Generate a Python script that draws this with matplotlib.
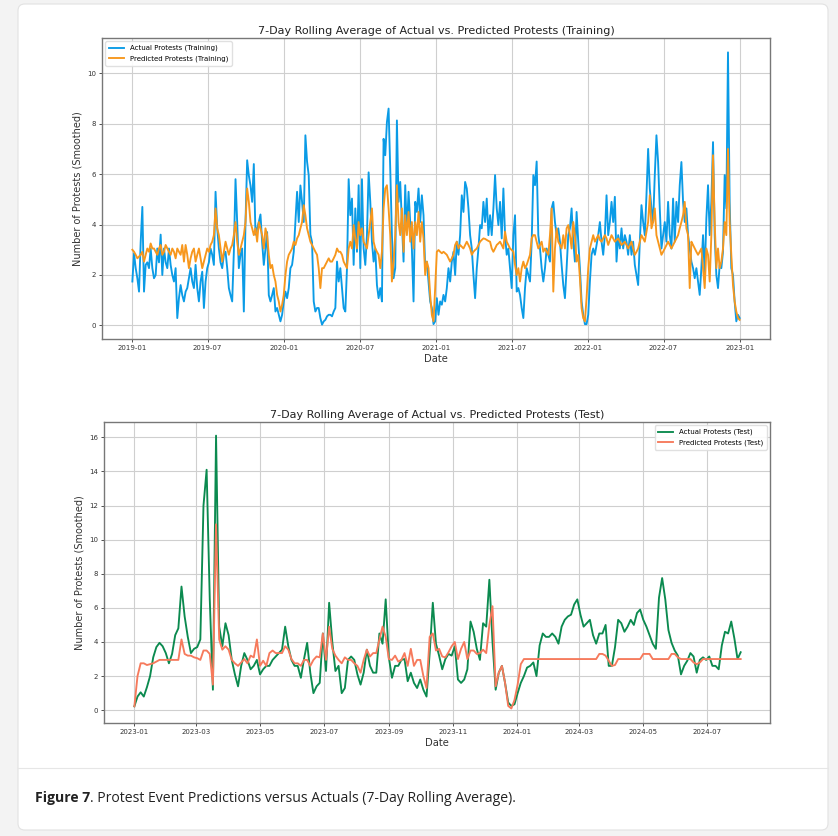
import pandas as pd
import matplotlib
matplotlib.use('Agg')
import matplotlib.pyplot as plt
import matplotlib.dates as mdates
from matplotlib.patches import FancyBboxPatch

# training period: one smoothed reading every 4 days, starting 2019-01-01
train_actual = [
    1.74, 2.86, 2.27, 1.87, 1.34, 3.3, 4.7, 1.34, 2.4, 2.5,
    2.27, 3.05, 2.27, 1.87, 2.0, 3.05, 2.5, 3.6, 2.0, 3.05,
    2.5, 2.27, 3.05, 2.4, 2.0, 1.74, 2.27, 0.29, 1.08, 1.6,
    1.2, 0.95, 1.34, 1.48, 1.87, 2.27, 1.74, 1.48, 2.4, 1.48,
    0.95, 1.74, 2.13, 0.69, 1.74, 2.27, 2.5, 3.05, 2.8, 2.4,
    5.3, 3.85, 3.05, 2.5, 2.27, 2.8, 2.92, 2.27, 1.48, 1.2,
    0.95, 2.92, 5.8, 4.1, 2.27, 2.8, 3.05, 0.55, 4.1, 6.55,
    5.95, 5.55, 4.9, 6.4, 3.6, 3.85, 4.1, 4.4, 3.3, 2.4,
    3.05, 3.7, 1.2, 0.95, 1.2, 1.48, 0.55, 0.69, 0.42, 0.16,
    0.42, 0.95, 1.34, 1.08, 1.48, 2.27, 2.4, 2.92, 4.1, 5.3,
    4.1, 5.55, 4.9, 4.1, 7.54, 6.5, 5.95, 3.6, 3.3, 0.95,
    0.55, 0.69, 0.69, 0.29, 0.03, 0.16, 0.22, 0.36, 0.42,
    0.42, 0.36, 0.55, 0.69, 2.53, 1.74, 2.27, 1.48, 0.69, 0.55,
    2.27, 5.8, 4.37, 5.03, 2.4, 4.64, 2.92, 5.56, 2.27, 5.8,
    3.05, 2.4, 3.58, 6.07, 4.9, 3.32, 2.53, 3.05, 1.6, 1.08,
    1.48, 0.95, 7.4, 6.75, 8.06, 8.6, 6.2, 3.58, 1.87, 2.27,
    8.13, 4.9, 5.69, 4.1, 2.53, 5.56, 3.72, 5.3, 4.1, 3.05,
    0.95, 4.9, 4.5, 5.43, 4.1, 5.16, 4.37, 2.27, 2.53, 1.74,
    0.95, 0.69, 0.05, 0.16, 1.08, 0.42, 0.95, 0.82, 1.21, 0.95,
    1.48, 2.27, 1.74, 2.53, 2.92, 2.0, 3.32, 2.8, 3.58, 5.16,
    4.5, 5.69, 5.43, 4.64, 3.58, 3.05, 2.0, 1.08, 2.27, 3.05,
    3.98, 3.85, 4.9, 4.1, 5.03, 3.58, 4.37, 3.58, 4.64, 5.96,
    4.64, 3.98, 4.9, 3.45, 5.43, 3.58, 2.8, 3.05, 2.27, 1.48,
    3.58, 4.37, 1.34, 1.48, 1.21, 0.69, 0.29, 1.48, 2.27, 2.0,
    1.74, 3.32, 5.96,
    5.56, 6.5, 3.58, 3.05, 2.27, 1.74, 2.27, 3.05, 2.8, 2.53,
    4.64, 4.9, 4.1, 3.58, 3.85, 3.32, 2.4, 1.6, 1.08, 2.27,
    3.58, 3.85, 4.64, 3.32, 2.53, 4.5, 3.32, 2.27, 0.95, 0.42,
    0.05, 0.05, 0.42, 1.74, 2.8, 3.05, 2.8, 3.19, 3.58, 4.1,
    3.32, 2.8, 3.58, 5.16, 3.58, 4.1, 4.9, 4.1, 5.1, 2.53,
    3.58, 3.05, 3.85, 3.05, 3.58, 3.32, 2.8, 3.58, 2.8, 3.32,
    2.4, 2.0, 1.6, 3.32, 4.77, 4.1, 3.58, 5.16, 7.0, 5.43,
    4.64, 4.1, 5.96, 7.54, 6.48, 4.64, 3.05, 3.58, 4.1, 3.32,
    4.9, 3.58, 3.05, 5.03, 3.32, 4.9, 4.1, 5.56, 6.48, 4.9,
    4.1, 4.64, 3.58, 3.05, 2.53, 2.27, 1.87, 2.27, 1.74, 1.21,
    2.27, 3.58, 2.0, 4.24, 5.56, 3.58, 4.9, 7.27, 3.58, 2.0,
    1.48, 2.4, 2.27, 2.92, 5.96, 4.64, 10.83, 4.9, 2.27, 2.0,
    0.95, 0.16, 0.42, 0.29,
]
train_pred = [
    3.0, 2.92, 2.8, 2.66, 2.73, 2.8, 2.92, 2.53, 2.8, 3.05,
    2.92, 3.25, 3.05, 3.05, 2.92, 2.8, 3.05, 3.19, 2.8, 2.92,
    3.19, 3.05, 2.92, 2.8, 3.05, 2.92, 2.66, 3.05, 2.92, 2.8,
    3.19, 2.53, 3.19, 2.8, 2.27, 2.66, 2.92, 3.05, 2.53, 2.8,
    3.05, 2.66, 2.27, 2.53, 2.8, 3.05, 2.92, 3.19, 3.32, 3.58,
    4.64, 3.85, 3.58, 3.05, 2.53, 2.92, 3.32, 3.05, 2.8, 3.05,
    3.19, 3.58, 4.1, 3.32, 2.8, 3.05, 3.32, 3.58, 4.1, 5.43,
    4.9, 4.1, 3.85, 3.58, 3.85, 3.32, 4.1, 3.85, 3.58, 3.05,
    3.85, 3.58, 2.8, 2.27, 2.4, 2.0, 1.74, 1.21, 0.95, 0.55,
    0.82, 1.21, 2.0, 2.53, 2.8, 2.92, 3.05, 3.32, 3.19, 3.45,
    3.58, 3.85, 4.1, 4.77, 4.37, 3.85, 3.58, 3.32, 3.19, 3.05,
    2.92, 2.8, 2.27, 1.48, 2.27, 2.27, 2.4, 2.53, 2.66,
    2.53, 2.53, 2.66, 2.8, 3.05, 2.92, 2.92, 2.8, 2.53, 2.4,
    2.27, 3.05, 3.32, 3.05, 3.98, 3.45, 3.05, 4.1, 3.58, 3.85,
    3.32, 3.19, 3.05, 3.58, 4.1, 4.64, 3.32, 3.05, 2.92, 2.8,
    2.27, 2.92, 4.64, 5.43, 5.56, 4.64, 3.58, 1.74, 2.53, 3.58,
    5.56, 4.1, 3.58, 4.64, 2.92, 4.37, 3.58, 4.5, 3.32, 4.1,
    3.05, 4.1, 3.58, 4.5, 3.32, 4.1, 3.45, 2.0, 2.53, 2.27,
    1.21, 0.42, 0.16, 1.48, 2.92, 2.99, 2.92, 2.86, 2.92, 2.86,
    2.8, 2.66, 2.53, 2.66, 2.8, 3.19, 3.32, 3.05, 3.19, 3.12,
    3.05, 3.19, 3.32, 3.19, 3.05, 2.8, 2.92, 2.99, 3.05, 3.19,
    3.32, 3.39, 3.45, 3.43, 3.39, 3.35, 3.32, 3.05, 2.92, 3.05,
    3.19, 3.25, 3.32, 3.19, 3.05, 3.72, 3.32, 3.19, 3.05, 2.99,
    2.92, 2.4, 2.0, 2.27, 1.74, 2.27, 2.53, 2.27, 2.4, 2.6,
    2.8, 3.45, 3.58,
    3.58, 3.32, 3.05, 3.19, 3.32, 2.92, 3.05, 2.92, 2.8, 3.58,
    4.64, 1.34, 3.05, 3.85, 3.32, 3.19, 3.05, 3.58, 3.05, 3.85,
    3.98, 3.58, 3.05, 4.1, 3.58, 2.53, 2.8, 1.87, 0.69, 0.29,
    0.16, 1.08, 2.27, 3.05, 3.32, 3.58, 3.32, 3.45, 3.58, 3.39,
    3.32, 3.45, 3.58, 3.45, 3.19, 3.39, 3.58, 3.45, 3.32, 3.39,
    3.45, 3.32, 3.19, 3.25, 3.32, 3.19, 3.05, 3.19, 3.32, 3.05,
    2.8, 2.92, 3.05, 3.32, 3.58, 3.45, 3.32, 3.72, 4.1, 5.16,
    3.85, 4.1, 4.64, 3.58, 3.32, 3.05, 2.8, 2.92, 3.05, 3.19,
    3.32, 3.19, 3.05, 3.19, 3.32, 3.45, 3.58, 3.85, 4.1, 4.37,
    4.9, 3.85, 3.58, 1.48, 3.32, 3.19, 3.05, 2.92, 2.8, 2.92,
    3.05, 2.27, 1.48, 3.05, 2.8, 1.74, 3.58, 6.75, 4.1, 2.27,
    3.05, 2.27, 2.53, 3.05, 4.1, 3.58, 7.0, 4.1, 2.8, 1.6,
    0.95, 0.55, 0.29, 0.22,
]

# test period: one smoothed reading every 3 days, starting 2023-01-01
test_actual = [
    0.23, 0.8, 1.05, 0.8, 1.35, 2.0, 3.1, 3.7, 3.95, 3.75,
    3.35, 2.75, 3.3, 4.4, 4.8, 7.25, 5.5, 4.3, 3.35, 3.6,
    3.7, 4.15, 12.0, 14.1, 6.5, 1.2, 16.1, 4.9, 3.75, 5.1,
    4.4, 2.95, 2.1, 1.4, 2.6, 3.35, 2.95, 2.4, 2.6, 2.95,
    2.1, 2.4, 2.6, 2.6, 2.95, 3.15, 3.35, 3.55, 4.9, 3.75,
    2.95, 2.6, 2.6, 1.9, 3.0, 3.95, 2.2, 1.0, 1.4, 1.6,
    4.5, 2.3, 6.3, 4.0, 2.3, 2.6, 1.0, 1.3, 2.95, 3.15,
    2.95, 2.1, 1.5, 2.2, 3.55, 2.6, 2.2, 2.2, 4.5, 3.9,
    6.5, 3.1, 1.9, 2.6, 2.6, 2.95, 3.0, 1.7, 2.2, 1.6,
    1.3, 1.8, 1.2, 0.8, 3.35, 6.3, 3.9, 3.2, 2.4, 3.0,
    3.3, 3.2, 3.75, 1.8, 1.6, 1.8, 2.4, 5.2, 4.6, 3.6,
    2.95, 5.1, 4.9, 7.65, 4.0, 1.2, 2.2, 2.6, 1.6, 0.45,
    0.25, 0.35, 1.0, 1.6, 2.0, 2.5, 2.6, 2.8, 2.0, 3.8,
    4.5, 4.3, 4.3, 4.5, 4.3, 3.9, 4.9, 5.3, 5.5, 5.6,
    6.2, 6.5, 5.6, 4.9, 5.1, 5.3, 4.4, 3.9, 4.5, 4.5,
    5.0, 2.6, 2.6, 3.7, 5.3, 5.1, 4.6, 4.9, 5.3, 5.0,
    5.7, 5.9, 5.3, 4.9, 4.4, 3.9, 3.6, 6.6, 7.75, 6.5,
    4.7, 3.95, 3.5, 3.2, 2.1, 2.6, 2.9, 3.35, 3.15, 2.2,
    2.95, 3.1, 2.95, 3.15, 2.6, 2.6, 2.4, 3.8, 4.6, 4.5,
    5.2, 4.2, 3.0, 3.4,
]
test_pred = [
    0.23, 2.0, 2.75, 2.75, 2.65, 2.7, 2.75, 2.85, 2.95, 2.95,
    2.95, 2.95, 2.95, 2.95, 2.95, 4.15, 3.3, 3.2, 3.2, 3.1,
    3.05, 2.95, 3.5, 3.5, 3.3, 1.5, 10.9, 4.15, 3.55, 3.75,
    3.55, 2.95, 2.75, 2.6, 2.8, 3.0, 2.75, 3.2, 3.1, 4.15,
    2.6, 2.9, 2.6, 3.35, 3.5, 3.35, 3.35, 3.35, 3.75, 3.55,
    3.0, 2.75, 2.75, 2.6, 2.95, 2.95, 2.6, 2.95, 3.15, 3.1,
    4.5, 2.95, 4.9, 3.6, 3.2, 2.95, 2.75, 3.1, 2.95, 2.95,
    2.75, 2.6, 2.2, 2.95, 3.55, 3.15, 3.35, 3.35, 4.15, 4.9,
    4.3, 3.0, 2.95, 3.2, 2.85, 2.95, 3.35, 2.6, 3.6, 2.6,
    2.95, 2.95, 2.0, 1.3, 4.3, 4.5, 3.5, 3.6, 3.15, 3.1,
    3.4, 3.75, 4.0, 3.0, 3.6, 4.0, 3.0, 3.5, 3.5, 3.3,
    3.35, 3.55, 3.35, 5.0, 6.1, 1.4, 2.2, 2.6, 1.6, 0.25,
    0.1, 0.6, 1.5, 2.7, 3.0, 3.0, 3.0, 3.0, 3.0, 3.0,
    3.0, 3.0, 3.0, 3.0, 3.0, 3.0, 3.0, 3.0, 3.0, 3.0,
    3.0, 3.0, 3.0, 3.0, 3.0, 3.0, 3.0, 3.0, 3.3, 3.3,
    3.2, 2.9, 2.6, 2.65, 3.0, 3.0, 3.0, 3.0, 3.0, 3.0,
    3.0, 3.0, 3.3, 3.3, 3.3, 3.0, 3.0, 3.0, 3.0, 3.0,
    3.0, 3.3, 3.3, 3.1, 3.0, 3.0, 3.0, 3.0, 2.8, 2.7,
    2.8, 3.0, 3.0, 3.0, 3.0, 3.0, 3.0, 3.0, 3.0, 3.0,
    3.0, 3.0, 3.0, 3.0,
]

train_dates = pd.date_range('2019-01-01', periods=len(train_actual), freq='4D')
test_dates = pd.date_range('2023-01-01', periods=len(test_actual), freq='3D')

W, H = 838, 836
fig = plt.figure(figsize=(W / 100, H / 100), dpi=100)
fig.patch.set_facecolor('#f3f3f3')


def px_box(x0, y0, x1, y1):
    # pixel box (top-left origin) -> figure fraction rect
    return [x0 / W, 1 - y1 / H, (x1 - x0) / W, (y1 - y0) / H]


# page card behind the figure
card = FancyBboxPatch((18 / W, 1 - 830 / H), 810 / W, 826 / H,
                      boxstyle='round,pad=0,rounding_size=0.008',
                      transform=fig.transFigure, facecolor='white',
                      edgecolor='#e2e2e2', linewidth=0.8, zorder=-10)
fig.add_artist(card)
fig.add_artist(plt.Line2D([18 / W, 828 / W], [1 - 768 / H, 1 - 768 / H],
                          transform=fig.transFigure, color='#e6e6e6', lw=0.8, zorder=-5))


def style_axes(ax, title):
    ax.set_title(title, fontsize=8.0, pad=3, color='#222222')
    ax.set_xlabel('Date', fontsize=7.2, labelpad=2, color='#333333')
    ax.set_ylabel('Number of Protests (Smoothed)', fontsize=7.0, labelpad=3, color='#333333')
    ax.tick_params(labelsize=5.0, length=2.5, width=0.6, colors='#333333', pad=2)
    ax.grid(True, color='#cfcfcf', lw=0.8)
    ax.set_axisbelow(True)
    for s in ax.spines.values():
        s.set_color('#777777')
        s.set_linewidth(1.0)


ax1 = fig.add_axes(px_box(102, 38, 770, 339))
ax1.plot(train_dates, train_actual, color='#0a9be6', lw=1.35, label='Actual Protests (Training)')
ax1.plot(train_dates, train_pred, color='#f7971c', lw=1.35, label='Predicted Protests (Training)')
ax1.set_xlim(pd.Timestamp('2018-10-20'), pd.Timestamp('2023-03-14'))
ax1.set_ylim(-0.54, 11.4)
ax1.xaxis.set_major_locator(mdates.MonthLocator(bymonth=[1, 7]))
ax1.xaxis.set_major_formatter(mdates.DateFormatter('%Y-%m'))
style_axes(ax1, '7-Day Rolling Average of Actual vs. Predicted Protests (Training)')
ax1.legend(loc='upper left', fontsize=5.0, handlelength=2.2, framealpha=0.9,
           borderpad=0.5, labelspacing=0.6, edgecolor='#dddddd')

ax2 = fig.add_axes(px_box(104, 422, 770, 723))
ax2.plot(test_dates, test_actual, color='#0b8a4f', lw=1.35, label='Actual Protests (Test)')
ax2.plot(test_dates, test_pred, color='#f67a5c', lw=1.35, label='Predicted Protests (Test)')
ax2.set_xlim(pd.Timestamp('2022-12-03'), pd.Timestamp('2024-08-30'))
ax2.set_ylim(-0.75, 16.9)
ax2.set_yticks(range(0, 17, 2))
ax2.xaxis.set_major_locator(mdates.MonthLocator(bymonth=[1, 3, 5, 7, 9, 11]))
ax2.xaxis.set_major_formatter(mdates.DateFormatter('%Y-%m'))
style_axes(ax2, '7-Day Rolling Average of Actual vs. Predicted Protests (Test)')
ax2.legend(loc='upper right', fontsize=5.0, handlelength=2.2, framealpha=0.9,
           borderpad=0.5, labelspacing=0.6, edgecolor='#dddddd')

# caption: bold label followed by the plain sentence
cap_y = 1 - 798 / H
t1 = fig.text(35 / W, cap_y, 'Figure 7', fontsize=10.1, fontweight='bold',
              family='Open Sans', color='#222222', va='center')
renderer = fig.canvas.get_renderer()
bb = t1.get_window_extent(renderer)
fig.text(bb.x1 / W, cap_y, '. Protest Event Predictions versus Actuals (7-Day Rolling Average).',
         fontsize=10.1, family='Open Sans', color='#222222', va='center')

fig.savefig('out.png', dpi=100, facecolor=fig.get_facecolor())
